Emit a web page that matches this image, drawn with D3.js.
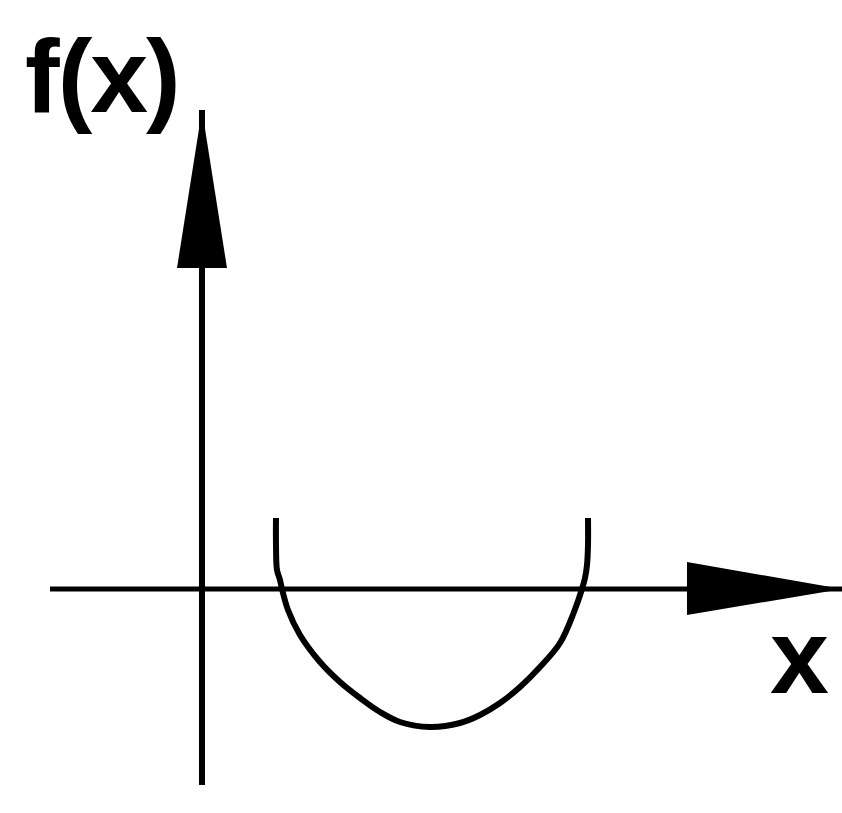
<!DOCTYPE html>
<html>
<head>
<meta charset="utf-8">
<script src="https://cdn.jsdelivr.net/npm/d3@7"></script>
<style>
  html, body { margin: 0; padding: 0; background: #fff; }
  svg { display: block; }
</style>
</head>
<body>
<svg id="chart" width="842" height="813"></svg>
<script>
// Curve data (arbitrary units, origin at axes crossing)
const curveX = [0.74, 0.74, 0.75, 0.78, 0.80, 0.86, 0.98, 1.18, 1.38, 1.58, 1.78, 1.98, 2.28, 2.58, 2.78, 2.98, 3.18, 3.38, 3.58, 3.72, 3.80, 3.83, 3.85, 3.86, 3.86];
const curveY = [0.71, 0.44, 0.19, 0.09, 0.00, -0.21, -0.46, -0.73, -0.93, -1.09, -1.23, -1.33, -1.38, -1.34, -1.26, -1.14, -0.98, -0.78, -0.54, -0.23, 0.00, 0.11, 0.24, 0.44, 0.71];
const xDomain = [-1.52, 6.40];
const yDomain = [-1.96, 4.79];
const yAxisLabel = "f(x)";
const xAxisLabel = "x";

const svg = d3.select("#chart");
const x = d3.scaleLinear().domain(xDomain).range([50, 842]);
const y = d3.scaleLinear().domain(yDomain).range([785, 110]);

const x0 = x(0), y0 = y(0);

// x axis line
svg.append("line")
  .attr("x1", x(xDomain[0])).attr("x2", x(xDomain[1]))
  .attr("y1", y0).attr("y2", y0)
  .attr("stroke", "#000").attr("stroke-width", 5);

// y axis line
svg.append("line")
  .attr("x1", x0).attr("x2", x0)
  .attr("y1", y(yDomain[0])).attr("y2", y(yDomain[1]))
  .attr("stroke", "#000").attr("stroke-width", 6);

// y arrowhead
const yTip = y(yDomain[1]);
svg.append("path")
  .attr("d", `M${x0},${yTip} L${x0 - 25},${yTip + 158} L${x0 + 25},${yTip + 158} Z`)
  .attr("fill", "#000");

// x arrowhead
const xTip = x(xDomain[1]);
svg.append("path")
  .attr("d", `M${xTip},${y0} L${xTip - 155},${y0 - 27} L${xTip - 155},${y0 + 26} Z`)
  .attr("fill", "#000");

// curve
const pts = curveX.map((d, i) => [d, curveY[i]]);
const line = d3.line().x(d => x(d[0])).y(d => y(d[1])).curve(d3.curveCatmullRom.alpha(0.5));
svg.append("path")
  .attr("d", line(pts))
  .attr("fill", "none")
  .attr("stroke", "#000")
  .attr("stroke-width", 6);

// labels
svg.append("text")
  .attr("x", 25).attr("y", 112)
  .attr("font-family", "Liberation Sans, Arial, sans-serif")
  .attr("font-weight", "bold")
  .attr("font-size", 104)
  .attr("letter-spacing", -2)
  .text(yAxisLabel);

svg.append("text")
  .attr("x", 770).attr("y", 693)
  .attr("font-family", "Liberation Sans, Arial, sans-serif")
  .attr("font-weight", "bold")
  .attr("font-size", 106)
  .text(xAxisLabel);
</script>
</body>
</html>
